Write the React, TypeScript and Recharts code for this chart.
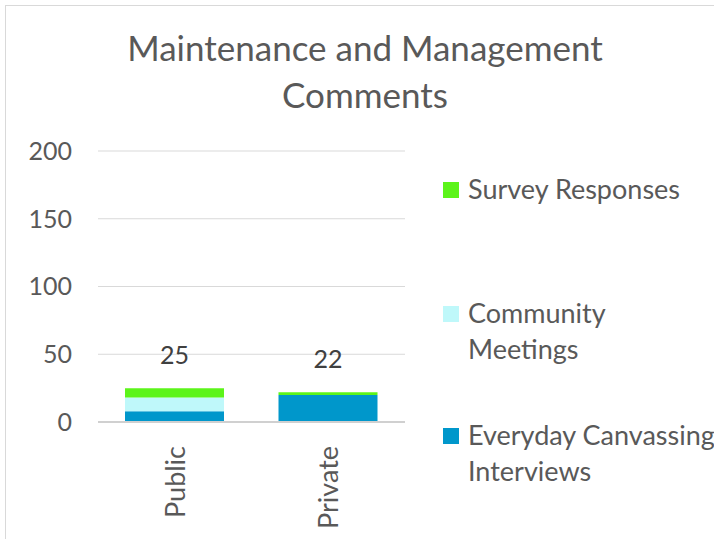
import React from "react";
import { BarChart, Bar, XAxis, YAxis, CartesianGrid, LabelList } from "recharts";

const categories = ["Public", "Private"];
const everydayCanvassing = [8, 20];
const communityMeetings = [10, 0];
const surveyResponses = [7, 2];
const yTicks = [0, 50, 100, 150, 200];

const series = [
  { key: "survey", label: ["Survey Responses"], color: "#5cf41a" },
  { key: "community", label: ["Community", "Meetings"], color: "#bff8fa" },
  { key: "everyday", label: ["Everyday Canvassing", "Interviews"], color: "#0097cb" },
];

const data = categories.map((name, i) => ({
  name,
  everyday: everydayCanvassing[i],
  community: communityMeetings[i],
  survey: surveyResponses[i],
  total: everydayCanvassing[i] + communityMeetings[i] + surveyResponses[i],
}));

const FONT = "Lato, 'Open Sans', sans-serif";
const TEXT = "#595959";

function XTick(props: any) {
  const { x, y, payload } = props;
  return (
    <text
      x={x}
      y={y}
      transform={`rotate(-90, ${x}, ${y})`}
      textAnchor="end"
      dy={10}
      dx={-16}
      fontSize={27}
      fontFamily={FONT}
      fill={TEXT}
    >
      {payload.value}
    </text>
  );
}

function TotalLabel(props: any) {
  const { x, y, width, index } = props;
  return (
    <text
      x={x + width / 2}
      y={y - 34}
      textAnchor="middle"
      dominantBaseline="central"
      fontSize={25}
      fontFamily={FONT}
      fill="#404040"
    >
      {data[index].total}
    </text>
  );
}

export default function App() {
  return (
    <div style={{ position: "absolute", left: 0, top: 0, width: 714, height: 539, background: "#fff", overflow: "hidden", fontFamily: FONT }}>
      <div style={{ position: "absolute", left: 5, top: 5, width: 760, height: 600, border: "1px solid #d9d9d9" }} />
      <div style={{ position: "absolute", left: 0, width: 730, top: 24, textAlign: "center", fontSize: 35, lineHeight: "47px", color: TEXT }}>
        Maintenance and Management
        <br />
        Comments
      </div>
      <div style={{ position: "absolute", left: 0, top: 0 }}>
        <BarChart width={714} height={539} data={data} margin={{ top: 151, right: 309, bottom: 0, left: 38 }}>
          <CartesianGrid vertical={false} stroke="#d9d9d9" />
          <YAxis
            domain={[0, 200]}
            ticks={yTicks}
            width={60}
            axisLine={false}
            tickLine={false}
            tickSize={0}
            tickMargin={26}
            tick={{ fontSize: 25, fontFamily: FONT, fill: TEXT }}
          />
          <XAxis
            dataKey="name"
            height={117}
            axisLine={{ stroke: "#d0d0d0", strokeWidth: 2 }}
            tickLine={false}
            tick={<XTick />}
            interval={0}
          />
          <Bar dataKey="everyday" stackId="a" fill="#0097cb" barSize={99} isAnimationActive={false} />
          <Bar dataKey="community" stackId="a" fill="#bff8fa" barSize={99} isAnimationActive={false} />
          <Bar dataKey="survey" stackId="a" fill="#5cf41a" barSize={99} isAnimationActive={false}>
            <LabelList dataKey="total" content={<TotalLabel />} />
          </Bar>
        </BarChart>
      </div>
      {series.map((s, i) => {
        const tops = [171, 295, 417];
        return (
          <div key={s.key} style={{ position: "absolute", left: 443, top: tops[i], fontSize: 27, lineHeight: "36px", color: TEXT }}>
            <div style={{ position: "absolute", left: 0, top: 11, width: 16, height: 16, background: s.color }} />
            <div style={{ marginLeft: 25, whiteSpace: "nowrap" }}>
              {s.label.map((l) => (
                <div key={l}>{l}</div>
              ))}
            </div>
          </div>
        );
      })}
    </div>
  );
}
